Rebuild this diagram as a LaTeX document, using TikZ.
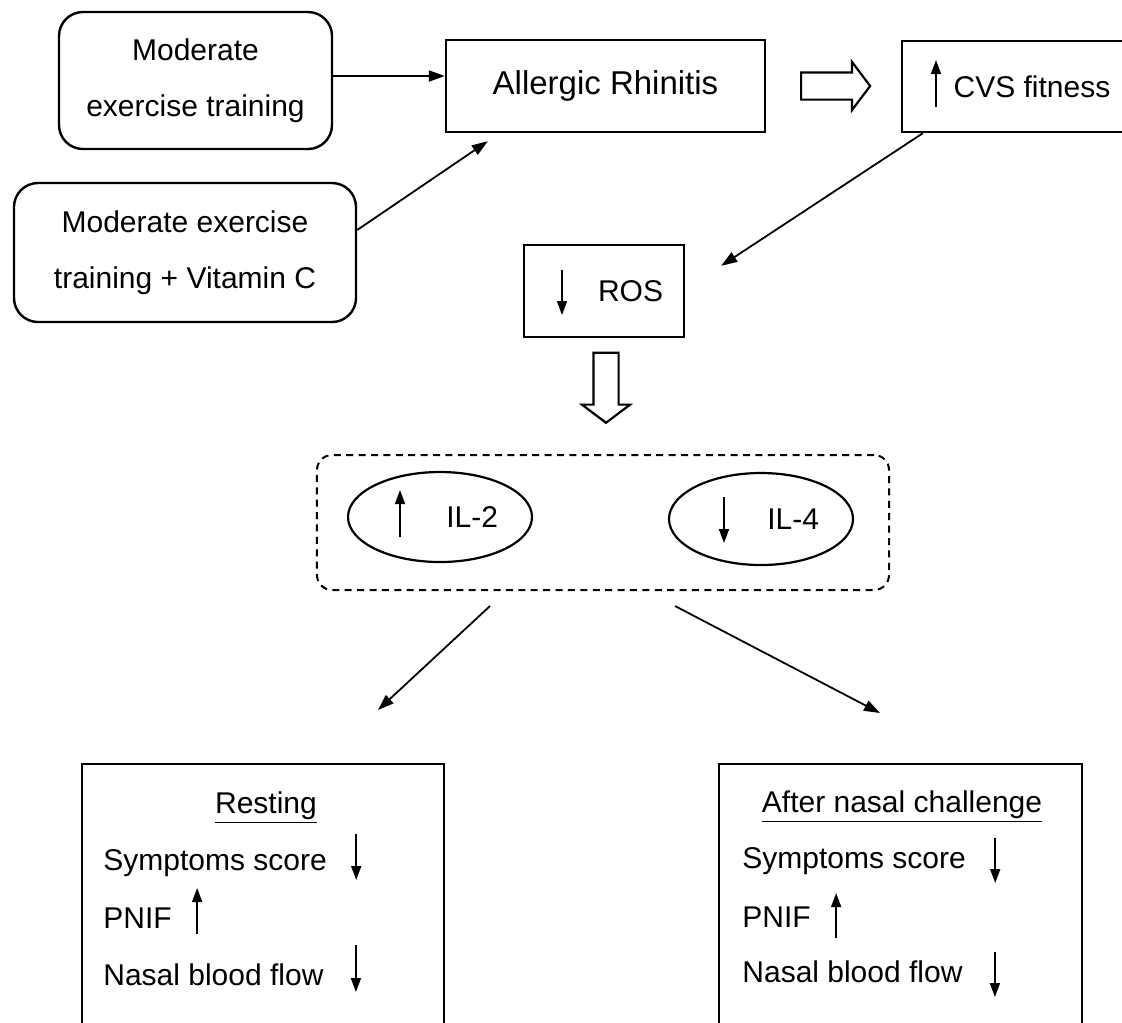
\documentclass[tikz,border=0pt]{standalone}
\usepackage{fontspec}
\setmainfont{Liberation Sans}
\usepackage{tikz}
\usetikzlibrary{shapes.geometric, shapes.arrows, arrows.meta, positioning}
\newcommand{\txtsize}{\fontsize{15bp}{28bp}\selectfont}
\newcommand{\bigtxtsize}{\fontsize{16.5bp}{28bp}\selectfont}
\tikzset{
  roundbox/.style={
    rectangle, rounded corners=12bp,
    draw=black, line width=1.2bp,
    align=center, font=\txtsize,
  },
  plainbox/.style={
    rectangle, draw=black, line width=1.2bp,
    font=\txtsize,
  },
  dashbox/.style={
    rectangle, rounded corners=7.5bp,
    draw=black, line width=1bp, dash pattern=on 3.5bp off 2.7bp,
  },
  ilnode/.style={
    ellipse, draw=black, line width=1.1bp, inner sep=0pt,
    minimum width=92bp, minimum height=45bp,
    text width=58bp, align=right, font=\txtsize,
  },
  hollowarrow/.style={
    single arrow, draw=black, line width=1.1bp,
    single arrow tip angle=106,
  },
  item/.style={anchor=base west, inner sep=0pt, font=\txtsize},
  heading/.style={anchor=base, inner sep=0pt, font=\txtsize},
  arrow/.style={-{Triangle[length=8bp, width=5.5bp]}, line width=0.9bp},
  updn/.style={-{Triangle[length=7bp, width=5bp]}, line width=0.8bp},
}

\begin{document}
\begin{tikzpicture}[x=0.5bp, y=-0.5bp]
  \useasboundingbox (0,0) rectangle (1122,1022);
  \clip (0,0) rectangle (1122,1022);

  % Top row: training groups -> Allergic Rhinitis => CVS fitness
  \node[roundbox, minimum width=136.5bp, minimum height=68.5bp] (train)  at (195.5,80.5) {Moderate\\exercise training};
  \node[roundbox, minimum width=171bp, minimum height=69.5bp]   (trainc) at (185,252.5)  {Moderate exercise\\training + Vitamin C};
  \node[plainbox, font=\bigtxtsize, minimum width=159.5bp, minimum height=46bp] (ar) at (605.5,86) {Allergic Rhinitis};
  \node[hollowarrow, inner sep=6.25bp, minimum height=34.5bp, minimum width=23bp, single arrow head extend=5.25bp] (ar2cvs) at (830.5,86) {};
  \node[plainbox, minimum width=130bp, minimum height=45.5bp] (cvs) at (1032,86.5) {CVS fitness};
  \draw[updn] ([xshift=-48bp,yshift=-10.25bp]cvs.center) -- ([xshift=-48bp,yshift=13.25bp]cvs.center);

  % ROS, then the cytokines
  \node[plainbox, text width=59bp, align=right, minimum width=80bp, minimum height=46bp] (ros) at (604,291) {ROS};
  \draw[updn] ([xshift=-21bp,yshift=10.5bp]ros.center) -- ([xshift=-21bp,yshift=-12bp]ros.center);
  \node[hollowarrow, shape border rotate=270, inner sep=5.75bp, minimum height=35bp, minimum width=23bp, single arrow head extend=5.75bp] (ros2il) at (606,383) {};

  \node[dashbox, minimum width=286bp, minimum height=67.5bp] (cyto) at (603,522.5) {};
  \node[ilnode] (il2) at (440,517) {IL-2};
  \node[ilnode, minimum height=46bp] (il4) at (761,519) {IL-4};
  \draw[updn] ([xshift=-20bp,yshift=-10bp]il2.center) -- ([xshift=-20bp,yshift=13.5bp]il2.center);
  \draw[updn] ([xshift=-18.5bp,yshift=11bp]il4.center) -- ([xshift=-18.5bp,yshift=-12bp]il4.center);

  % Arrows between boxes
  \draw[arrow] ([yshift=2.25bp]train.east) -- ([yshift=2.25bp]train.east -| ar.west);
  \draw[arrow] ([yshift=11.25bp]trainc.east) -- ([xshift=21.5bp,yshift=-4bp]ar.south west);
  \draw[arrow] ([xshift=11bp]cvs.south west) -- ([xshift=18bp,yshift=-11bp]ros.north east);

  % Bottom row: outcomes
  \node[plainbox, anchor=north, minimum width=181bp, minimum height=140bp]   (rest)  at (263,763)   {};
  \node[plainbox, anchor=north, minimum width=181.5bp, minimum height=140bp] (after) at (900.5,763) {};

  \draw[arrow] ([xshift=-56.5bp,yshift=-7.5bp]cyto.south) -- ([xshift=57.5bp,yshift=26.5bp]rest.north);
  \draw[arrow] ([xshift=36bp,yshift=-7.5bp]cyto.south)  -- ([xshift=-10.25bp,yshift=25bp]after.north);

  \node[heading] (resttitle)  at (266,813) {\underline{Resting}};
  \node[item] (rs1) at (103,870) {Symptoms score};
  \node[item] (rs2) at (103,928) {PNIF};
  \node[item] (rs3) at (103,985) {Nasal blood flow};
  \draw[updn] ([xshift=14.5bp,yshift=18bp]rs1.base east) -- ([xshift=14.5bp,yshift=-5bp]rs1.base east);
  \draw[updn] ([xshift=12.5bp,yshift=-3bp]rs2.base east) -- ([xshift=12.5bp,yshift=20bp]rs2.base east);
  \draw[updn] ([xshift=16bp,yshift=20bp]rs3.base east) -- ([xshift=16bp,yshift=-3.5bp]rs3.base east);

  \node[heading] (aftertitle) at (902,812) {\underline{After nasal challenge}};
  \node[item] (as1) at (742,868) {Symptoms score};
  \node[item] (as2) at (742,927) {PNIF};
  \node[item] (as3) at (742,982) {Nasal blood flow};
  \draw[updn] ([xshift=14.5bp,yshift=15bp]as1.base east) -- ([xshift=14.5bp,yshift=-7.5bp]as1.base east);
  \draw[updn] ([xshift=12.5bp,yshift=-5.5bp]as2.base east) -- ([xshift=12.5bp,yshift=17bp]as2.base east);
  \draw[updn] ([xshift=16bp,yshift=15bp]as3.base east) -- ([xshift=16bp,yshift=-7.5bp]as3.base east);

\end{tikzpicture}
\end{document}
